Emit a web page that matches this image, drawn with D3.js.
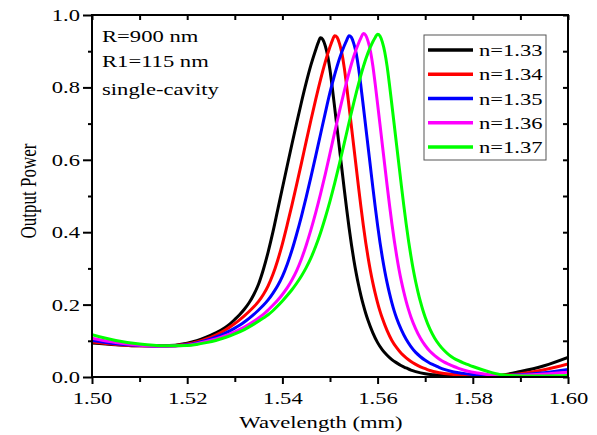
<!DOCTYPE html>
<html>
<head>
<meta charset="utf-8">
<script src="https://cdn.jsdelivr.net/npm/d3@7"></script>
<style>
    body { margin: 0; background: #fff; }
    text { font-family: "Liberation Serif", "Times New Roman", serif; fill: #000; }
</style>
</head>
<body>
<div id="chart"></div>
<script>

// [wavelength, output power] pairs
const n133 = [[1.500,0.094],[1.505,0.089],[1.510,0.086],[1.515,0.086],[1.520,0.093],[1.522,0.100],[1.524,0.110],
    [1.526,0.122],[1.528,0.137],[1.529,0.147],[1.530,0.159],[1.531,0.172],[1.532,0.187],[1.533,0.205],[1.534,0.228],
    [1.535,0.257],[1.536,0.297],[1.537,0.345],[1.538,0.400],[1.539,0.461],[1.540,0.522],[1.541,0.583],[1.542,0.643],
    [1.543,0.702],[1.544,0.759],[1.545,0.813],[1.546,0.862],[1.547,0.904],[1.5475,0.923],[1.548,0.937],
    [1.5485,0.932],[1.549,0.915],[1.5495,0.888],[1.550,0.848],[1.5505,0.797],[1.551,0.742],[1.5515,0.686],
    [1.552,0.630],[1.5525,0.574],[1.553,0.518],[1.5535,0.464],[1.554,0.413],[1.5545,0.366],[1.555,0.324],
    [1.5555,0.287],[1.556,0.254],[1.5565,0.225],[1.557,0.199],[1.5575,0.176],[1.558,0.156],[1.559,0.122],
    [1.560,0.095],[1.561,0.075],[1.562,0.060],[1.563,0.048],[1.564,0.039],[1.565,0.031],[1.566,0.025],
    [1.567,0.019],[1.568,0.015],[1.570,0.009],[1.572,0.006],[1.575,0.003],[1.580,0.002],[1.585,0.004],
    [1.590,0.015],[1.595,0.031],[1.600,0.054]];

const n134 = [[1.500,0.097],[1.505,0.090],[1.510,0.086],[1.515,0.085],[1.520,0.091],[1.522,0.097],[1.524,0.105],
    [1.526,0.116],[1.528,0.130],[1.530,0.148],[1.531,0.158],[1.532,0.169],[1.533,0.181],[1.534,0.194],[1.535,0.209],
    [1.536,0.228],[1.537,0.252],[1.538,0.283],[1.539,0.322],[1.540,0.368],[1.541,0.420],[1.542,0.475],[1.543,0.532],
    [1.544,0.591],[1.545,0.651],[1.546,0.710],[1.547,0.767],[1.548,0.821],[1.549,0.870],[1.550,0.912],
    [1.5505,0.930],[1.551,0.943],[1.5515,0.938],[1.552,0.921],[1.5525,0.894],[1.553,0.854],[1.5535,0.803],
    [1.554,0.748],[1.5545,0.692],[1.555,0.636],[1.5555,0.580],[1.556,0.524],[1.5565,0.470],[1.557,0.419],
    [1.5575,0.372],[1.558,0.330],[1.5585,0.293],[1.559,0.260],[1.5595,0.231],[1.560,0.205],[1.5605,0.182],
    [1.561,0.162],[1.562,0.128],[1.563,0.101],[1.564,0.081],[1.565,0.065],[1.566,0.053],[1.567,0.043],
    [1.568,0.035],[1.569,0.028],[1.570,0.023],[1.571,0.018],[1.573,0.012],[1.575,0.008],[1.580,0.004],
    [1.585,0.004],[1.590,0.009],[1.595,0.020],[1.600,0.036]];

const n135 = [[1.500,0.101],[1.505,0.092],[1.510,0.087],[1.515,0.085],[1.520,0.089],[1.522,0.094],[1.524,0.101],
    [1.526,0.110],[1.528,0.121],[1.530,0.135],[1.531,0.143],[1.532,0.152],[1.533,0.162],[1.534,0.173],[1.535,0.185],
    [1.536,0.198],[1.537,0.213],[1.538,0.231],[1.539,0.252],[1.540,0.278],[1.541,0.311],[1.542,0.350],[1.543,0.395],
    [1.544,0.444],[1.545,0.497],[1.546,0.553],[1.547,0.611],[1.548,0.670],[1.549,0.729],[1.550,0.786],
    [1.551,0.836],[1.552,0.880],[1.553,0.915],[1.5535,0.930],[1.554,0.943],[1.5545,0.938],[1.555,0.921],
    [1.5555,0.894],[1.556,0.854],[1.5565,0.803],[1.557,0.748],[1.5575,0.692],[1.558,0.636],[1.5585,0.580],
    [1.559,0.524],[1.5595,0.470],[1.560,0.419],[1.5605,0.372],[1.561,0.330],[1.5615,0.293],[1.562,0.260],
    [1.5625,0.231],[1.563,0.205],[1.5635,0.182],[1.564,0.162],[1.565,0.130],[1.566,0.104],[1.567,0.084],
    [1.568,0.068],[1.569,0.056],[1.570,0.046],[1.571,0.038],[1.572,0.032],[1.573,0.026],[1.574,0.021],
    [1.576,0.014],[1.578,0.010],[1.580,0.007],[1.583,0.005],[1.586,0.004],[1.590,0.006],[1.595,0.012],
    [1.600,0.021]];

const n136 = [[1.500,0.107],[1.505,0.095],[1.510,0.088],[1.515,0.085],[1.520,0.088],[1.522,0.092],[1.524,0.098],
    [1.526,0.105],[1.528,0.114],[1.530,0.125],[1.532,0.138],[1.534,0.154],[1.535,0.163],[1.536,0.173],[1.537,0.185],
    [1.538,0.198],[1.539,0.212],[1.540,0.228],[1.541,0.246],[1.542,0.268],[1.543,0.294],[1.544,0.326],[1.545,0.364],
    [1.546,0.407],[1.547,0.454],[1.548,0.505],[1.549,0.560],[1.550,0.618],[1.551,0.677],[1.552,0.735],
    [1.553,0.790],[1.554,0.841],[1.555,0.886],[1.556,0.922],[1.5565,0.937],[1.557,0.949],[1.5575,0.944],
    [1.558,0.927],[1.5585,0.900],[1.559,0.860],[1.5595,0.809],[1.560,0.754],[1.5605,0.698],[1.561,0.641],
    [1.5615,0.585],[1.562,0.529],[1.5625,0.475],[1.563,0.424],[1.5635,0.377],[1.564,0.335],[1.5645,0.297],
    [1.565,0.264],[1.5655,0.235],[1.566,0.209],[1.5665,0.186],[1.567,0.166],[1.568,0.133],[1.569,0.107],
    [1.570,0.087],[1.571,0.071],[1.572,0.059],[1.573,0.049],[1.574,0.041],[1.575,0.035],[1.576,0.029],
    [1.577,0.024],[1.579,0.016],[1.581,0.011],[1.583,0.007],[1.5855,0.004],[1.590,0.005],[1.595,0.008],
    [1.600,0.013]];

const n137 = [[1.500,0.117],[1.505,0.101],[1.510,0.091],[1.515,0.086],[1.520,0.087],[1.522,0.090],[1.524,0.095],
    [1.526,0.101],[1.528,0.109],[1.530,0.119],[1.532,0.131],[1.534,0.146],[1.536,0.163],[1.537,0.172],[1.538,0.183],
    [1.539,0.196],[1.540,0.210],[1.541,0.225],[1.542,0.241],[1.543,0.259],[1.544,0.279],[1.545,0.302],[1.546,0.329],
    [1.547,0.361],[1.548,0.398],[1.549,0.440],[1.550,0.486],[1.551,0.536],[1.552,0.590],[1.553,0.646],
    [1.554,0.703],[1.555,0.758],[1.556,0.810],[1.557,0.857],[1.558,0.896],[1.559,0.926],[1.5595,0.938],
    [1.560,0.947],[1.5605,0.942],[1.561,0.925],[1.5615,0.898],[1.562,0.858],[1.5625,0.807],[1.563,0.752],
    [1.5635,0.696],[1.564,0.640],[1.5645,0.584],[1.565,0.528],[1.5655,0.474],[1.566,0.423],[1.5665,0.376],
    [1.567,0.334],[1.5675,0.296],[1.568,0.263],[1.5685,0.234],[1.569,0.208],[1.5695,0.185],[1.570,0.165],
    [1.571,0.132],[1.572,0.107],[1.573,0.088],[1.574,0.073],[1.575,0.061],[1.576,0.052],[1.577,0.045],
    [1.578,0.039],[1.579,0.034],[1.580,0.029],[1.582,0.020],[1.584,0.012],[1.586,0.006],[1.588,0.004],
    [1.590,0.003],[1.595,0.003],[1.600,0.004]];

const seriesNames = ["n=1.33", "n=1.34", "n=1.35", "n=1.36", "n=1.37"];
const seriesColors = ["#000000", "#ff0000", "#0000ff", "#ff00ff", "#00ff00"];
const allSeries = [n133, n134, n135, n136, n137];

const xTicks = [1.50, 1.52, 1.54, 1.56, 1.58, 1.60];
const xMinor = [1.51, 1.53, 1.55, 1.57, 1.59];
const yTicks = [0.0, 0.2, 0.4, 0.6, 0.8, 1.0];
const yMinor = [0.1, 0.3, 0.5, 0.7, 0.9];
const notes = ["R=900 nm", "R1=115 nm", "single-cavity"];

// the source figure looks stretched sideways, so text gets the same squash
const SX = 1.33;
const fontSize = 17;

const chartW = 597, chartH = 435;
const plotL = 92, plotR = 568, plotT = 15, plotB = 377;

const svg = d3.select("#chart")
    .append("svg")
    .attr("width", chartW)
    .attr("height", chartH);

const x = d3.scaleLinear().domain([1.5, 1.6]).range([plotL, plotR]);
const y = d3.scaleLinear().domain([0, 1]).range([plotB, plotT]);

svg.append("clipPath")
    .attr("id", "plot-clip")
    .append("rect")
    .attr("x", plotL)
    .attr("y", plotT)
    .attr("width", plotR - plotL)
    .attr("height", plotB - plotT);

/* curves */
const line = d3.line()
    .x(function (d) { return x(d[0]); })
    .y(function (d) { return y(d[1]); })
    .curve(d3.curveMonotoneX);

svg.append("g")
    .attr("clip-path", "url(#plot-clip)")
    .selectAll("path")
    .data(allSeries)
    .enter()
    .append("path")
    .attr("d", line)
    .attr("fill", "none")
    .attr("stroke", function (d, i) { return seriesColors[i]; })
    .attr("stroke-width", 3)
    .attr("stroke-linejoin", "round");

/* axes */
function styleAxis(g) {
    g.select(".domain").remove();
    g.selectAll("line").attr("stroke", "#000").attr("stroke-width", 2);
}

svg.append("g")
    .attr("transform", "translate(0," + plotB + ")")
    .call(d3.axisBottom(x).tickValues(xTicks).tickSize(7).tickFormat(d3.format(".2f")))
    .call(styleAxis)
    .call(function (g) {
        g.selectAll("text")
            .attr("y", 27)
            .attr("dy", 0)
            .attr("transform", "scale(" + SX + ",1)")
            .style("font-size", fontSize + "px")
            .style("font-family", "Liberation Serif");
    });

svg.append("g")
    .attr("transform", "translate(0," + plotB + ")")
    .call(d3.axisBottom(x).tickValues(xMinor).tickSize(5).tickFormat(""))
    .call(styleAxis);

svg.append("g")
    .attr("transform", "translate(" + plotL + ",0)")
    .call(d3.axisLeft(y).tickValues(yTicks).tickSize(9).tickFormat(d3.format(".1f")))
    .call(styleAxis)
    .call(function (g) {
        g.selectAll("text")
            .attr("x", -12 / SX)
            .attr("transform", "scale(" + SX + ",1)")
            .style("font-size", fontSize + "px")
            .style("font-family", "Liberation Serif");
    });

svg.append("g")
    .attr("transform", "translate(" + plotL + ",0)")
    .call(d3.axisLeft(y).tickValues(yMinor).tickSize(4).tickFormat(""))
    .call(styleAxis);

// top and right: short inward ticks, no labels
svg.append("g")
    .attr("transform", "translate(0," + plotT + ")")
    .call(d3.axisBottom(x).tickValues(xTicks.concat(xMinor)).tickSize(5).tickFormat(""))
    .call(styleAxis);

svg.append("g")
    .attr("transform", "translate(" + plotR + ",0)")
    .call(d3.axisLeft(y).tickValues(yTicks.concat(yMinor)).tickSize(5).tickFormat(""))
    .call(styleAxis);

// frame
svg.append("rect")
    .attr("x", plotL)
    .attr("y", plotT)
    .attr("width", plotR - plotL)
    .attr("height", plotB - plotT)
    .attr("fill", "none")
    .attr("stroke", "#000")
    .attr("stroke-width", 2);

/* titles */
svg.append("text")
    .attr("transform", "translate(321,428) scale(" + SX + ",1)")
    .attr("text-anchor", "middle")
    .style("font-size", fontSize + "px")
    .text("Wavelength (mm)");

svg.append("text")
    .attr("transform", "translate(36,191) scale(" + SX + ",1) rotate(-90)")
    .attr("text-anchor", "middle")
    .style("font-size", fontSize + "px")
    .text("Output Power");

/* notes in the corner */
svg.selectAll(".note")
    .data(notes)
    .enter()
    .append("text")
    .attr("class", "note")
    .attr("transform", function (d, i) {
        return "translate(102," + [42, 67, 95][i] + ") scale(" + SX + ",1)";
    })
    .style("font-size", fontSize + "px")
    .text(function (d) { return d; });

/* legend */
const legend = svg.append("g");

legend.append("rect")
    .attr("x", 424)
    .attr("y", 35)
    .attr("width", 122)
    .attr("height", 125)
    .attr("fill", "#fff")
    .attr("stroke", "#555")
    .attr("stroke-width", 1);

const rows = legend.selectAll(".row")
    .data(seriesNames)
    .enter()
    .append("g")
    .attr("class", "row")
    .attr("transform", function (d, i) { return "translate(0," + (50 + i * 24.25) + ")"; });

rows.append("line")
    .attr("x1", 428)
    .attr("x2", 473)
    .attr("stroke", function (d, i) { return seriesColors[i]; })
    .attr("stroke-width", 3.5);

rows.append("text")
    .attr("transform", "translate(479,6) scale(" + SX + ",1)")
    .style("font-size", fontSize + "px")
    .text(function (d) { return d; });

</script>
</body>
</html>
